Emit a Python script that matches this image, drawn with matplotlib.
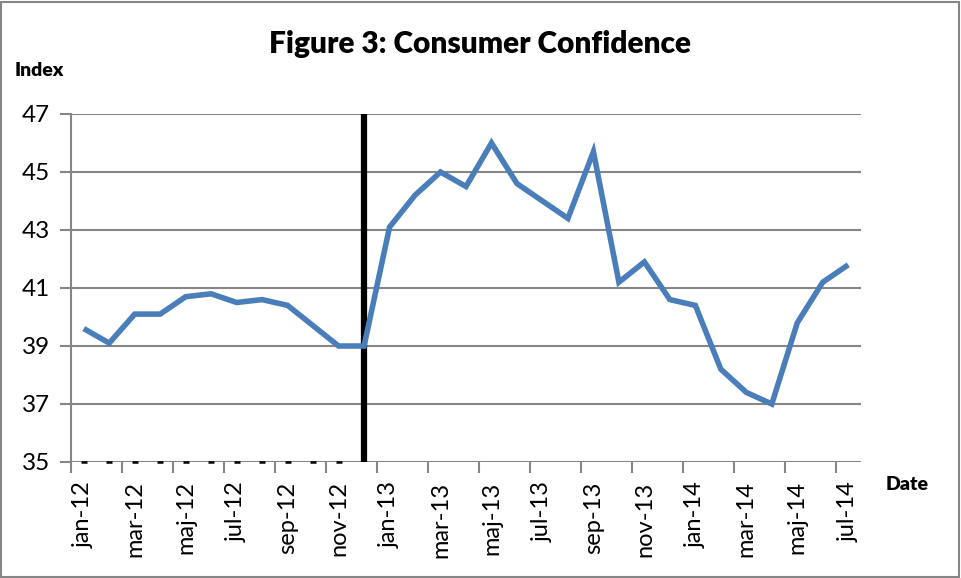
import matplotlib
matplotlib.use("Agg")
import matplotlib.pyplot as plt
from matplotlib.patches import Rectangle

months = ["jan-12", "feb-12", "mar-12", "apr-12", "maj-12", "jun-12", "jul-12", "aug-12",
          "sep-12", "okt-12", "nov-12", "dec-12",
          "jan-13", "feb-13", "mar-13", "apr-13", "maj-13", "jun-13", "jul-13", "aug-13",
          "sep-13", "okt-13", "nov-13", "dec-13",
          "jan-14", "feb-14", "mar-14", "apr-14", "maj-14", "jun-14", "jul-14"]
confidence = [39.6, 39.1, 40.1, 40.1, 40.7, 40.8, 40.5, 40.6, 40.4, 39.7, 39.0, 39.0,
              43.1, 44.2, 45.0, 44.5, 46.0, 44.6, 44.0, 43.4, 45.7, 41.2, 41.9, 40.6,
              40.4, 38.2, 37.4, 37.0, 39.8, 41.2, 41.8]
baseline_marks = [35] * 11          # small dashes shown at the axis for jan-12 .. nov-12
break_month = "dec-12"              # vertical black marker line
yticks = [35, 37, 39, 41, 43, 45, 47]

plt.rcParams['font.family'] = ['Lato', 'DejaVu Sans']

W, H = 961, 578
fig = plt.figure(figsize=(W / 100, H / 100), dpi=100)
ax = fig.add_axes([71 / W, 1 - 462 / H, (861 - 71) / W, (462 - 114) / H])

x = list(range(len(months)))
grid_c = "#868686"

ax.set_ylim(35, 47)
ax.set_xlim(-0.5, len(months) - 0.5)
ax.set_yticks(yticks)
ax.set_yticklabels([str(v) for v in yticks], fontsize=17.5)
ax.yaxis.grid(True, color=grid_c, linewidth=1.5)
ax.set_axisbelow(True)

for s in ["top", "right", "bottom"]:
    ax.spines[s].set_visible(False)
ax.spines["left"].set_color(grid_c)
ax.spines["left"].set_linewidth(1.5)

ax.tick_params(axis="y", length=8, width=1.5, color=grid_c, pad=7)

# x labels at every second month, tick marks at category boundaries
ax.set_xticks(x[::2])
ax.set_xticklabels(months[::2], rotation=90, fontsize=17)
ax.set_xticks([i - 0.5 for i in x[::2]], minor=True)
ax.tick_params(axis="x", which="major", length=0, pad=14)
ax.tick_params(axis="x", which="minor", length=8, width=1.5, color=grid_c)

# vertical break line
bi = months.index(break_month)
ax.axvline(bi, color="black", linewidth=4.5, zorder=3)

# series
ax.plot(x, confidence, color="#4a7ebb", linewidth=4, solid_joinstyle="miter",
        solid_capstyle="butt", zorder=4)
ax.plot(x[:len(baseline_marks)], baseline_marks, linestyle="none", marker="_",
        markersize=5, markeredgewidth=1.8, color="black", clip_on=False, zorder=5)

fig.text(480 / W, 1 - 44 / H, "Figure 3: Consumer Confidence", ha="center", va="center",
         fontsize=21.5, fontweight="heavy")
fig.text(15 / W, 1 - 71 / H, "Index", ha="left", va="center", fontsize=14, fontweight="heavy")
fig.text(886 / W, 1 - 484 / H, "Date", ha="left", va="center", fontsize=14, fontweight="heavy")

fig.patches.append(Rectangle((1 / W, 1 / H), 1 - 3 / W, 1 - 3 / H, transform=fig.transFigure,
                             fill=False, edgecolor=grid_c, linewidth=1.5))

fig.savefig("out.png", dpi=100)
